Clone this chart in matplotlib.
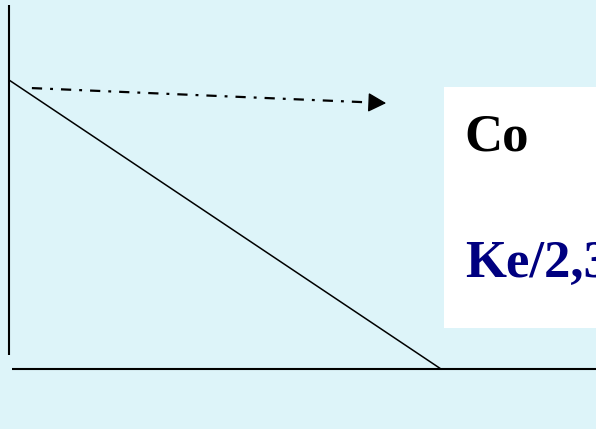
import matplotlib

matplotlib.use("Agg")
import matplotlib.pyplot as plt
from matplotlib.patches import FancyArrowPatch, Rectangle

# zero-order elimination: concentration falls linearly from C0 to 0
time = [0.0, 1.0]
conc = [1.0, 0.0]

# dash-dot arrow (time direction at C0 level)
arrow_x = [0.053, 0.873]
arrow_y = [0.972, 0.920]

# axis lines drawn by hand (they do not meet in the original)
y_axis_x = [0.0, 0.0]
y_axis_y = [0.048, 1.26]
x_axis_x = [0.007, 1.40]
x_axis_y = [0.0, 0.0]

labels = ["Co", "Ke/2,303"]
label_colors = ["black", "#000080"]
label_y = [0.755, 0.318]

bg = "#ddf4f9"

fig = plt.figure(figsize=(5.96, 4.29), dpi=100)
fig.patch.set_facecolor(bg)
ax = fig.add_axes([9 / 596, 60 / 429, 432 / 596, 289 / 429])
ax.set_xlim(0, 1)
ax.set_ylim(0, 1)
ax.axis("off")

ax.plot(y_axis_x, y_axis_y, color="black", lw=1.5, clip_on=False, solid_capstyle="butt")
ax.plot(x_axis_x, x_axis_y, color="black", lw=1.5, clip_on=False, solid_capstyle="butt")
ax.plot(time, conc, color="black", lw=1.1, clip_on=False)

# dashed shaft, stopping where the head begins
frac = 0.96
shaft_end = (arrow_x[0] + frac * (arrow_x[1] - arrow_x[0]),
             arrow_y[0] + frac * (arrow_y[1] - arrow_y[0]))
ax.plot([arrow_x[0], shaft_end[0]], [arrow_y[0], shaft_end[1]], color="black",
        lw=1.6, linestyle=(0, (4.6, 3.6, 1.3, 3.6)), clip_on=False)
head = FancyArrowPatch(
    shaft_end, (arrow_x[1], arrow_y[1]),
    arrowstyle="-|>,head_length=0.75,head_width=0.4",
    mutation_scale=15, color="black", lw=1.0,
    shrinkA=0, shrinkB=0, clip_on=False,
)
ax.add_patch(head)

box = Rectangle((1.007, 0.142), 0.5, 0.834, facecolor="white",
                edgecolor="none", clip_on=False, zorder=3)
ax.add_patch(box)

for txt, col, yy in zip(labels, label_colors, label_y):
    ax.text(1.055, yy, txt, color=col, fontsize=38, fontweight="bold",
            family="Liberation Serif", va="baseline", ha="left",
            clip_on=False, zorder=4)

fig.savefig("out.png", dpi=100, facecolor=bg)
